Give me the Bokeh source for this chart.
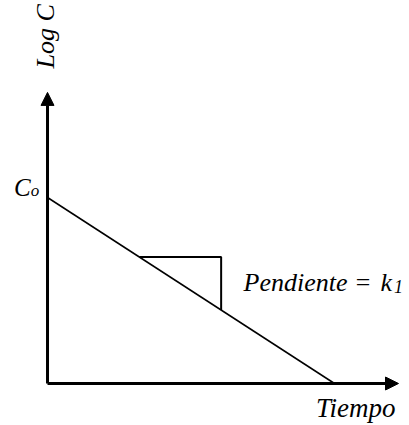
from bokeh.plotting import figure
from bokeh.models import Range1d, Arrow, NormalHead, Label
from bokeh.embed import file_html
from bokeh.resources import INLINE

# Data (conceptual first-order decay on log scale)
tiempo = [0.0, 1.0]          # time at C0 and at intercept with time axis
log_c = [1.0, 0.0]           # Log C at those times (C0 -> 0)
tri_x = [0.32, 0.605, 0.605]  # slope triangle: horizontal leg then vertical leg
axis_end_x = 1.223
axis_end_y = 1.565

FONT = "Liberation Serif"

p = figure(width=409, height=425, output_backend="svg", toolbar_location=None,
           x_range=Range1d(-0.1638, 1.2613), y_range=Range1d(-0.2258, 2.0591),
           min_border=0, outline_line_color=None)
p.axis.visible = False
p.grid.visible = False

# axes with arrows
p.add_layout(Arrow(end=NormalHead(size=13, fill_color="black", line_color="black"),
                   x_start=0, y_start=0, x_end=0, y_end=axis_end_y,
                   line_width=3, line_color="black"))
p.add_layout(Arrow(end=NormalHead(size=13, fill_color="black", line_color="black"),
                   x_start=0, y_start=0, x_end=axis_end_x, y_end=0,
                   line_width=3, line_color="black"))

# decay line
p.line(tiempo, log_c, line_width=1.5, line_color="black")

# slope triangle
slope = (log_c[1] - log_c[0]) / (tiempo[1] - tiempo[0])
tri_y = [log_c[0] + slope * tri_x[0], log_c[0] + slope * tri_x[0],
         log_c[0] + slope * tri_x[2]]
p.line(tri_x, tri_y, line_width=2, line_color="black")

def lab(text, x, y, size, **kw):
    p.add_layout(Label(x=x, y=y, text=text, text_font=FONT, text_font_style="italic",
                       text_font_size=f"{size}px", text_color="black",
                       text_baseline="alphabetic", **kw))

lab("C", -0.117, 1.053, 25, text_align="left")
lab("o", -0.058, 1.038, 17, text_align="left")
lab("Pendiente =", 0.683, 0.545, 26, text_align="left")
lab("k", 1.16, 0.545, 26, text_align="left")
lab("1", 1.207, 0.52, 18, text_align="left")
lab("Tiempo", 1.2125, -0.13, 27, text_align="right")
lab("Log C", -0.007, 1.694, 26, text_align="left", angle=1.5708)

open("out.html", "w").write(file_html(p, INLINE))
